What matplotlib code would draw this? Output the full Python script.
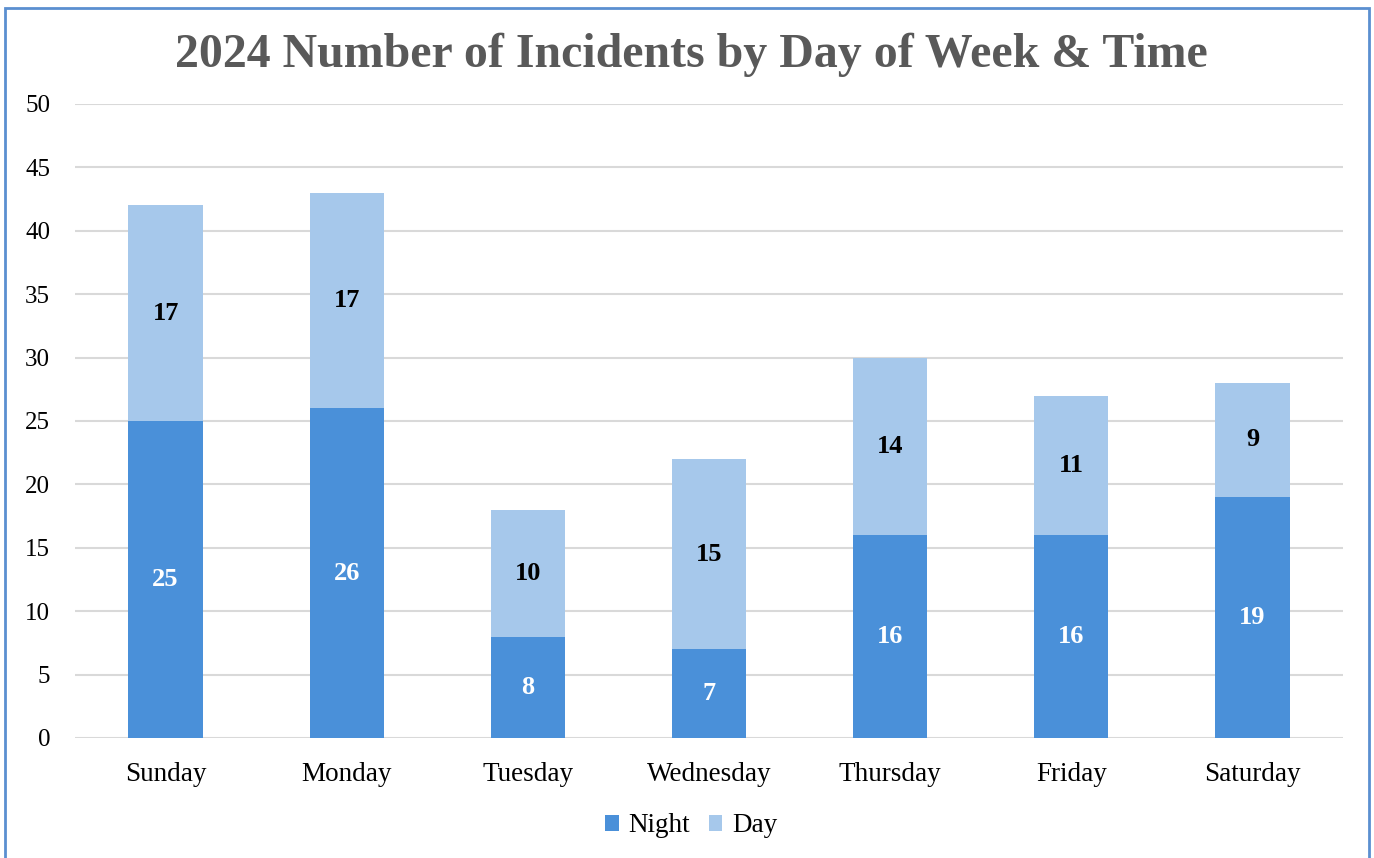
import matplotlib.pyplot as plt
from matplotlib.patches import Rectangle
import numpy as np

days = ["Sunday", "Monday", "Tuesday", "Wednesday", "Thursday", "Friday", "Saturday"]
night = [25, 26, 8, 7, 16, 16, 19]
day = [17, 17, 10, 15, 14, 11, 9]
yticks = [0, 5, 10, 15, 20, 25, 30, 35, 40, 45, 50]

plt.rcParams["font.family"] = ["Liberation Serif", "DejaVu Serif"]

fig = plt.figure(figsize=(13.74, 8.58), dpi=100)
ax = fig.add_axes([0.0546, 0.1399, 0.9228, 0.7389])

x = np.arange(len(days))
width = 0.41
night_color = "#4A90D9"
day_color = "#A6C8EB"

b1 = ax.bar(x, night, width, color=night_color, label="Night", zorder=3)
b2 = ax.bar(x, day, width, bottom=night, color=day_color, label="Day", zorder=3)

# value labels in the middle of each segment
for i in range(len(days)):
    ax.text(x[i], night[i] / 2, str(night[i]), ha="center", va="center",
            color="white", fontsize=19, fontweight="bold", zorder=4)
    ax.text(x[i], night[i] + day[i] / 2, str(day[i]), ha="center", va="center",
            color="black", fontsize=19, fontweight="bold", zorder=4)

ax.set_xlim(-0.5, len(days) - 0.5)
ax.set_ylim(0, 50)
ax.set_yticks(yticks)
ax.set_xticks(x)
ax.set_xticklabels(days)
ax.tick_params(axis="both", length=0, colors="black")
ax.tick_params(axis="y", pad=18, labelsize=18)
ax.tick_params(axis="x", pad=17, labelsize=19.5)
ax.yaxis.grid(True, color="#D9D9D9", linewidth=1.5, zorder=0)
for s in ax.spines.values():
    s.set_visible(False)

fig.suptitle("2024 Number of Incidents by Day of Week & Time", x=0.503, y=1 - 55 / 858,
             va="center", fontsize=34.5, fontweight="bold", color="#595959")

fig.legend(handles=[b1, b2], labels=["Night", "Day"], loc="center",
           bbox_to_anchor=(0.503, 1 - 826 / 858), ncol=2, frameon=False, fontsize=19.5,
           handlelength=0.5, handleheight=0.5, handletextpad=0.35, columnspacing=0.7)

# blue outer border like the chart frame
fig.patches.append(Rectangle((5 / 1374, -0.05), 1364 / 1374, 1 - 8 / 858 + 0.05,
                             transform=fig.transFigure, fill=False,
                             edgecolor="#5B8FD0", linewidth=2, clip_on=False))

fig.savefig("out.png", dpi=100)
